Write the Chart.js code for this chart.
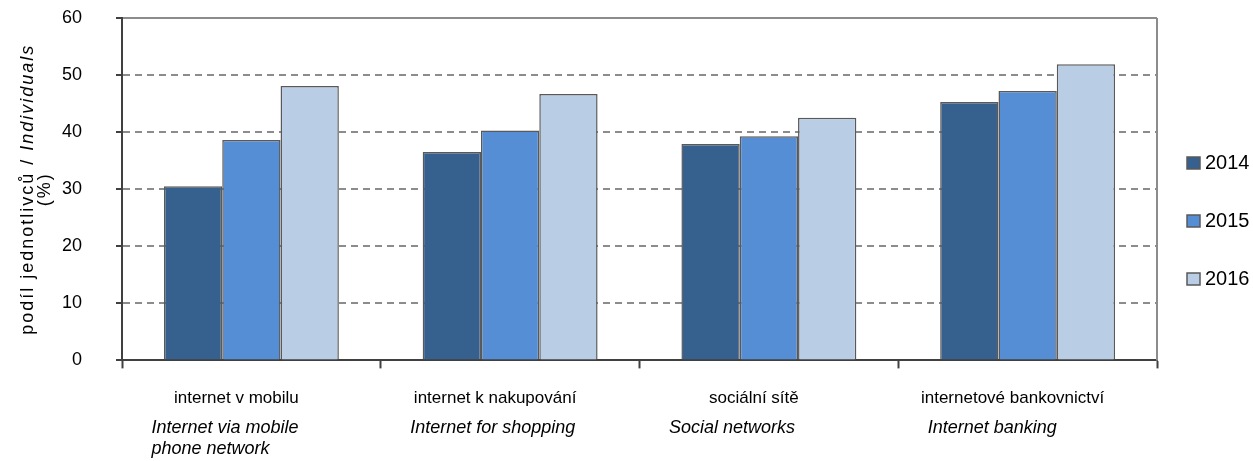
<!DOCTYPE html>
<html>
<head>
<meta charset="utf-8">
<script src="https://cdn.jsdelivr.net/npm/chart.js@4/dist/chart.umd.min.js"></script>
<style>
  body { margin: 0; background: #fff; }
</style>
</head>
<body>
<canvas id="canvasUsage" width="1253" height="461"></canvas>
<script>
"use strict";

var categories = ['internet v mobilu', 'internet k nakupování', 'sociální sítě', 'internetové bankovnictví'];
var categoriesEn = [['Internet via mobile', 'phone network'], ['Internet for shopping'], ['Social networks'], ['Internet banking']];
var years = ['2014', '2015', '2016'];
var values2014 = [30.5, 36.5, 37.9, 45.3];
var values2015 = [38.6, 40.3, 39.3, 47.2];
var values2016 = [48.1, 46.7, 42.5, 51.9];
var yTicks = [0, 10, 20, 30, 40, 50, 60];

var fontName = '"Liberation Sans", Arial, sans-serif';
var barColors = ['#36608e', '#558ed5', '#b9cde5'];

function $each(list, fn) {
    for (var i = 0; i < list.length; i++) fn(i, list[i]);
}

// draws the two-style category labels, the y axis title and the legend
var labelsPlugin = {
    id: 'labelsPlugin',
    afterDraw: function (chart) {
        var ctx = chart.ctx;
        var area = chart.chartArea;
        var xScale = chart.scales.x;

        ctx.save();
        // right border of the plot
        ctx.strokeStyle = '#8c8c8c';
        ctx.lineWidth = 2;
        ctx.beginPath();
        ctx.moveTo(area.right, area.top);
        ctx.lineTo(area.right, area.bottom);
        ctx.stroke();

        ctx.fillStyle = '#000';
        ctx.textBaseline = 'middle';
        $each(categories, function (i, name) {
            var x = xScale.getPixelForValue(i);
            ctx.font = '17px ' + fontName;
            ctx.textAlign = 'center';
            ctx.fillText(name, x - 15, area.bottom + 38);
            ctx.font = 'italic 18px ' + fontName;
            ctx.textAlign = 'left';
            $each(categoriesEn[i], function (j, line) {
                ctx.fillText(line, x - 100, area.bottom + 68 + j * 21);
            });
        });

        // legend
        ctx.font = '20px ' + fontName;
        ctx.textAlign = 'left';
        $each(chart.data.datasets, function (i, ds) {
            var y = area.top + 145 + i * 58;
            var bx = area.right + 30;
            ctx.fillStyle = ds.backgroundColor;
            ctx.fillRect(bx, y - 6, 13, 12);
            ctx.strokeStyle = ds.borderColor;
            ctx.lineWidth = 1.5;
            ctx.strokeRect(bx, y - 6, 13, 12);
            ctx.fillStyle = '#000';
            ctx.fillText(ds.label, bx + 18, y);
        });

        // y axis title, rotated
        var cy = (area.top + area.bottom) / 2;
        ctx.translate(area.left - 94, cy);
        ctx.rotate(-Math.PI / 2);
        ctx.letterSpacing = '2px';
        ctx.textAlign = 'left';
        var part1 = 'podíl jednotlivců / ';
        var part2 = 'Individuals';
        ctx.font = '18px ' + fontName;
        var w1 = ctx.measureText(part1).width;
        ctx.font = 'italic 18px ' + fontName;
        var w2 = ctx.measureText(part2).width;
        var start = -(w1 + w2) / 2;
        ctx.font = '18px ' + fontName;
        ctx.fillText(part1, start, 0);
        ctx.font = 'italic 18px ' + fontName;
        ctx.fillText(part2, start + w1, 0);
        ctx.font = '18px ' + fontName;
        ctx.textAlign = 'center';
        ctx.fillText('(%)', 0, 17);
        ctx.restore();
    }
};

var seriesValues = [values2014, values2015, values2016];
var datasets = [];
$each(years, function (i, year) {
    datasets.push({
        label: year,
        data: seriesValues[i],
        backgroundColor: barColors[i],
        borderColor: '#595959',
        borderWidth: 1.5,
        categoryPercentage: 0.676,
        barPercentage: 1
    });
});

const context = document.getElementById('canvasUsage');
const usageChart = new Chart(context, {
    type: 'bar',
    data: {
        labels: categories,
        datasets: datasets
    },
    options: {
        responsive: false,
        animation: false,
        layout: { padding: { left: 28, top: 18, right: 96, bottom: 37 } },
        plugins: {
            legend: { display: false },
            tooltip: { enabled: false }
        },
        scales: {
            x: {
                grid: {
                    drawOnChartArea: false,
                    tickLength: 8,
                    tickColor: '#404040',
                    tickWidth: 2
                },
                border: { color: '#404040', width: 2 },
                ticks: { display: false },
                title: {
                    display: true,
                    text: ' ',
                    font: { family: fontName, size: 18 },
                    padding: { top: 0, bottom: 34 }
                }
            },
            y: {
                min: 0,
                max: 60,
                afterBuildTicks: function (scale) {
                    scale.ticks = yTicks.map(function (v) { return { value: v }; });
                },
                afterFit: function (scale) {
                    scale.paddingTop = 0;
                    scale.paddingBottom = 0;
                },
                grid: {
                    color: function (c) { return c.tick && c.tick.value === 0 ? 'transparent' : '#8c8c8c'; },
                    lineWidth: 2,
                    tickLength: 6,
                    tickColor: '#404040',
                    tickWidth: 2
                },
                border: {
                    color: '#404040',
                    width: 2,
                    dash: function (c) { return c.tick && c.tick.value === 60 ? [] : [7, 5]; }
                },
                ticks: {
                    color: '#000',
                    padding: 34,
                    font: { family: fontName, size: 18 }
                }
            }
        }
    },
    plugins: [labelsPlugin]
});
</script>
</body>
</html>
